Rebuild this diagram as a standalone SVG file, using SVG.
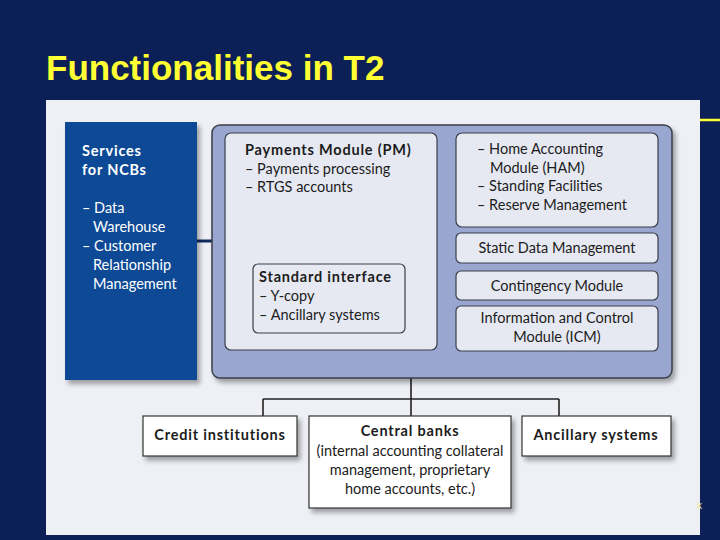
<svg xmlns="http://www.w3.org/2000/svg" width="720" height="540" viewBox="0 0 720 540">
<defs>
<filter id="sh" x="-10%" y="-10%" width="130%" height="140%">
<feGaussianBlur in="SourceAlpha" stdDeviation="2.5"/>
<feOffset dx="3" dy="4" result="b"/>
<feComponentTransfer><feFuncA type="linear" slope="0.35"/></feComponentTransfer>
<feMerge><feMergeNode/><feMergeNode in="SourceGraphic"/></feMerge>
</filter>
<style>
.t{font-family:"Lato","Open Sans","Liberation Sans",sans-serif;font-size:14.5px;fill:#1c1c1c}
.b{font-weight:bold;letter-spacing:0.8px}
.w{fill:#ffffff}
.mod{fill:#e6e9f2;stroke:#3a3f4a;stroke-width:1.2}
.box{fill:#ffffff;stroke:#333333;stroke-width:1.2}
.ln{fill:none;stroke:#222222;stroke-width:1.6}
</style>
</defs>
<rect width="720" height="540" fill="#0c1f57"/>
<text x="46" y="80" font-family="Liberation Sans, Arial, sans-serif" font-size="35" font-weight="bold" fill="#ffff33">Functionalities in T2</text>
<line x1="700" y1="120" x2="720" y2="120" stroke="#ffff33" stroke-width="2.5"/>
<rect x="46" y="100" width="654" height="435" fill="#eef0f6"/>
<text x="697" y="509" font-family="Liberation Sans, sans-serif" font-size="10" fill="#e8e8a0">k</text>

<g id="connectors">
<line x1="197" y1="241" x2="213" y2="241" stroke="#0c2a5c" stroke-width="3"/>
<path class="ln" d="M411 378 V416 M263 399 H559 M263 399 V416 M559 399 V416"/>
</g>

<g id="ncb">
<rect x="65" y="122" width="132" height="258" fill="#0a4a94" filter="url(#sh)"/>
<text class="t b w" x="82" y="156">Services</text>
<text class="t b w" x="82" y="175">for NCBs</text>
<text class="t w" x="82" y="213">– Data</text>
<text class="t w" x="93" y="232">Warehouse</text>
<text class="t w" x="82" y="251">– Customer</text>
<text class="t w" x="93" y="270">Relationship</text>
<text class="t w" x="93" y="289">Management</text>
</g>

<g id="t2">
<rect x="212" y="125" width="460" height="253" rx="8" fill="#98a6d0" stroke="#3a3f4a" stroke-width="1.5" filter="url(#sh)"/>
</g>

<g id="pm">
<rect class="mod" x="225" y="133" width="212" height="217" rx="6"/>
<text class="t b" x="245" y="155">Payments Module (PM)</text>
<text class="t" x="245" y="174">– Payments processing</text>
<text class="t" x="245" y="192">– RTGS accounts</text>
</g>

<g id="stdif">
<rect class="mod" x="253" y="264" width="152" height="69" rx="5"/>
<text class="t b" x="259" y="282">Standard interface</text>
<text class="t" x="259" y="301">– Y-copy</text>
<text class="t" x="259" y="320">– Ancillary systems</text>
</g>

<g id="ham">
<rect class="mod" x="456" y="133" width="202" height="94" rx="6"/>
<text class="t" x="477" y="154">– Home Accounting</text>
<text class="t" x="490" y="173">Module (HAM)</text>
<text class="t" x="477" y="191">– Standing Facilities</text>
<text class="t" x="477" y="210">– Reserve Management</text>
</g>

<g id="sdm">
<rect class="mod" x="456" y="233" width="202" height="30" rx="5"/>
<text class="t" x="557" y="253" text-anchor="middle">Static Data Management</text>
</g>

<g id="cm">
<rect class="mod" x="456" y="271" width="202" height="29" rx="5"/>
<text class="t" x="557" y="291" text-anchor="middle">Contingency Module</text>
</g>

<g id="icm">
<rect class="mod" x="456" y="306" width="202" height="45" rx="5"/>
<text class="t" x="557" y="323" text-anchor="middle">Information and Control</text>
<text class="t" x="557" y="342" text-anchor="middle">Module (ICM)</text>
</g>

<g id="ci">
<rect class="box" x="143" y="416" width="154" height="40" filter="url(#sh)"/>
<text class="t b" x="220" y="440" text-anchor="middle">Credit institutions</text>
</g>

<g id="cb">
<rect class="box" x="309" y="416" width="202" height="92" filter="url(#sh)"/>
<text class="t b" x="410" y="436" text-anchor="middle">Central banks</text>
<text class="t" x="410" y="456" text-anchor="middle">(internal accounting collateral</text>
<text class="t" x="410" y="475" text-anchor="middle">management, proprietary</text>
<text class="t" x="410" y="494" text-anchor="middle">home accounts, etc.)</text>
</g>

<g id="as">
<rect class="box" x="522" y="416" width="149" height="40" filter="url(#sh)"/>
<text class="t b" x="596" y="440" text-anchor="middle">Ancillary systems</text>
</g>
</svg>
